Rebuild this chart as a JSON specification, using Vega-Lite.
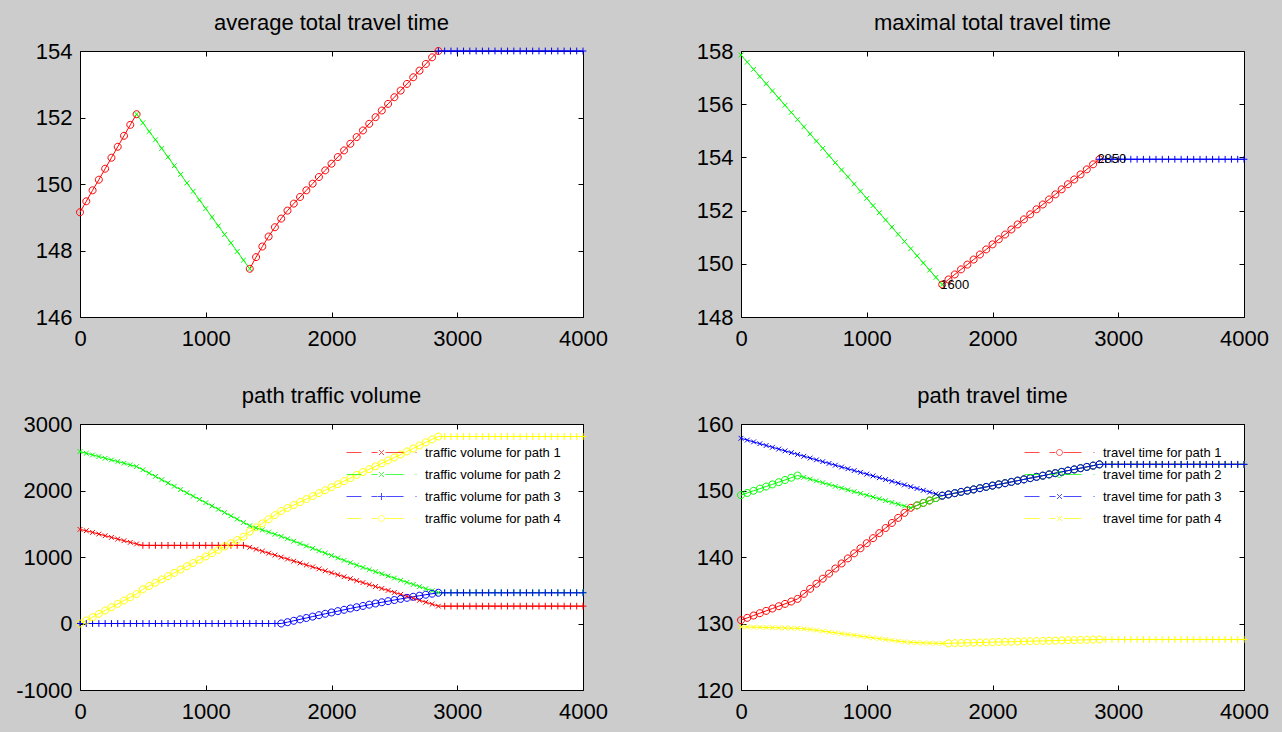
{
"$schema": "https://vega.github.io/schema/vega-lite/v6.json",
"background": "#cccccc",
"padding": {"left": 15, "top": 11, "right": 13, "bottom": 9},
"columns": 2,
"spacing": {"row": 34, "column": 87},
"datasets": {
"avg": [
{"x":0,"v":149.15,"t":"r","g":1},{"x":50,"v":149.48,"t":"r","g":1},{"x":100,"v":149.81,"t":"r","g":1},{"x":150,"v":150.13,"t":"r","g":1},{"x":200,"v":150.46,"t":"r","g":1},{"x":250,"v":150.79,"t":"r","g":1},{"x":300,"v":151.12,"t":"r","g":1},{"x":350,"v":151.45,"t":"r","g":1},{"x":400,"v":151.78,"t":"r","g":1},{"x":450,"v":152.1,"t":"r","g":1},
{"x":450,"v":152.1,"t":"f","g":2},{"x":500,"v":151.84,"t":"f","g":2},{"x":550,"v":151.58,"t":"f","g":2},{"x":600,"v":151.33,"t":"f","g":2},{"x":650,"v":151.07,"t":"f","g":2},{"x":700,"v":150.81,"t":"f","g":2},{"x":750,"v":150.55,"t":"f","g":2},{"x":800,"v":150.29,"t":"f","g":2},{"x":850,"v":150.03,"t":"f","g":2},{"x":900,"v":149.78,"t":"f","g":2},{"x":950,"v":149.52,"t":"f","g":2},{"x":1000,"v":149.26,"t":"f","g":2},{"x":1050,"v":149.0,"t":"f","g":2},{"x":1100,"v":148.74,"t":"f","g":2},{"x":1150,"v":148.48,"t":"f","g":2},{"x":1200,"v":148.23,"t":"f","g":2},{"x":1250,"v":147.97,"t":"f","g":2},{"x":1300,"v":147.71,"t":"f","g":2},{"x":1350,"v":147.45,"t":"f","g":2},
{"x":1350,"v":147.45,"t":"r","g":3},{"x":1400,"v":147.8,"t":"r","g":3},{"x":1450,"v":148.12,"t":"r","g":3},{"x":1500,"v":148.42,"t":"r","g":3},{"x":1550,"v":148.7,"t":"r","g":3},{"x":1600,"v":148.96,"t":"r","g":3},{"x":1650,"v":149.2,"t":"r","g":3},{"x":1700,"v":149.41,"t":"r","g":3},{"x":1750,"v":149.61,"t":"r","g":3},{"x":1800,"v":149.81,"t":"r","g":3},{"x":1850,"v":150.01,"t":"r","g":3},{"x":1900,"v":150.21,"t":"r","g":3},{"x":1950,"v":150.41,"t":"r","g":3},{"x":2000,"v":150.61,"t":"r","g":3},{"x":2050,"v":150.81,"t":"r","g":3},{"x":2100,"v":151.01,"t":"r","g":3},{"x":2150,"v":151.21,"t":"r","g":3},{"x":2200,"v":151.41,"t":"r","g":3},{"x":2250,"v":151.61,"t":"r","g":3},{"x":2300,"v":151.81,"t":"r","g":3},{"x":2350,"v":152.01,"t":"r","g":3},{"x":2400,"v":152.21,"t":"r","g":3},{"x":2450,"v":152.41,"t":"r","g":3},{"x":2500,"v":152.61,"t":"r","g":3},{"x":2550,"v":152.81,"t":"r","g":3},{"x":2600,"v":153.01,"t":"r","g":3},{"x":2650,"v":153.21,"t":"r","g":3},{"x":2700,"v":153.41,"t":"r","g":3},{"x":2750,"v":153.61,"t":"r","g":3},{"x":2800,"v":153.81,"t":"r","g":3},{"x":2850,"v":154.0,"t":"r","g":3},
{"x":2850,"v":154,"t":"c","g":4},{"x":2900,"v":154,"t":"c","g":4},{"x":2950,"v":154,"t":"c","g":4},{"x":3000,"v":154,"t":"c","g":4},{"x":3050,"v":154,"t":"c","g":4},{"x":3100,"v":154,"t":"c","g":4},{"x":3150,"v":154,"t":"c","g":4},{"x":3200,"v":154,"t":"c","g":4},{"x":3250,"v":154,"t":"c","g":4},{"x":3300,"v":154,"t":"c","g":4},{"x":3350,"v":154,"t":"c","g":4},{"x":3400,"v":154,"t":"c","g":4},{"x":3450,"v":154,"t":"c","g":4},{"x":3500,"v":154,"t":"c","g":4},{"x":3550,"v":154,"t":"c","g":4},{"x":3600,"v":154,"t":"c","g":4},{"x":3650,"v":154,"t":"c","g":4},{"x":3700,"v":154,"t":"c","g":4},{"x":3750,"v":154,"t":"c","g":4},{"x":3800,"v":154,"t":"c","g":4},{"x":3850,"v":154,"t":"c","g":4},{"x":3900,"v":154,"t":"c","g":4},{"x":3950,"v":154,"t":"c","g":4},{"x":4000,"v":154,"t":"c","g":4}
],
"max": [
{"x":0,"v":157.85,"t":"f","g":1},{"x":50,"v":157.58,"t":"f","g":1},{"x":100,"v":157.31,"t":"f","g":1},{"x":150,"v":157.04,"t":"f","g":1},{"x":200,"v":156.77,"t":"f","g":1},{"x":250,"v":156.5,"t":"f","g":1},{"x":300,"v":156.23,"t":"f","g":1},{"x":350,"v":155.96,"t":"f","g":1},{"x":400,"v":155.69,"t":"f","g":1},{"x":450,"v":155.42,"t":"f","g":1},{"x":500,"v":155.15,"t":"f","g":1},{"x":550,"v":154.88,"t":"f","g":1},{"x":600,"v":154.61,"t":"f","g":1},{"x":650,"v":154.34,"t":"f","g":1},{"x":700,"v":154.07,"t":"f","g":1},{"x":750,"v":153.8,"t":"f","g":1},{"x":800,"v":153.53,"t":"f","g":1},{"x":850,"v":153.27,"t":"f","g":1},{"x":900,"v":153.0,"t":"f","g":1},{"x":950,"v":152.73,"t":"f","g":1},{"x":1000,"v":152.46,"t":"f","g":1},{"x":1050,"v":152.19,"t":"f","g":1},{"x":1100,"v":151.92,"t":"f","g":1},{"x":1150,"v":151.65,"t":"f","g":1},{"x":1200,"v":151.38,"t":"f","g":1},{"x":1250,"v":151.11,"t":"f","g":1},{"x":1300,"v":150.84,"t":"f","g":1},{"x":1350,"v":150.57,"t":"f","g":1},{"x":1400,"v":150.3,"t":"f","g":1},{"x":1450,"v":150.03,"t":"f","g":1},{"x":1500,"v":149.76,"t":"f","g":1},{"x":1550,"v":149.49,"t":"f","g":1},{"x":1600,"v":149.22,"t":"f","g":1},
{"x":1600,"v":149.22,"t":"r","g":2},{"x":1650,"v":149.41,"t":"r","g":2},{"x":1700,"v":149.6,"t":"r","g":2},{"x":1750,"v":149.79,"t":"r","g":2},{"x":1800,"v":149.97,"t":"r","g":2},{"x":1850,"v":150.16,"t":"r","g":2},{"x":1900,"v":150.35,"t":"r","g":2},{"x":1950,"v":150.54,"t":"r","g":2},{"x":2000,"v":150.73,"t":"r","g":2},{"x":2050,"v":150.92,"t":"r","g":2},{"x":2100,"v":151.1,"t":"r","g":2},{"x":2150,"v":151.29,"t":"r","g":2},{"x":2200,"v":151.48,"t":"r","g":2},{"x":2250,"v":151.67,"t":"r","g":2},{"x":2300,"v":151.86,"t":"r","g":2},{"x":2350,"v":152.05,"t":"r","g":2},{"x":2400,"v":152.23,"t":"r","g":2},{"x":2450,"v":152.42,"t":"r","g":2},{"x":2500,"v":152.61,"t":"r","g":2},{"x":2550,"v":152.8,"t":"r","g":2},{"x":2600,"v":152.99,"t":"r","g":2},{"x":2650,"v":153.17,"t":"r","g":2},{"x":2700,"v":153.36,"t":"r","g":2},{"x":2750,"v":153.55,"t":"r","g":2},{"x":2800,"v":153.74,"t":"r","g":2},{"x":2850,"v":153.93,"t":"r","g":2},
{"x":2850,"v":153.93,"t":"c","g":3},{"x":2900,"v":153.93,"t":"c","g":3},{"x":2950,"v":153.93,"t":"c","g":3},{"x":3000,"v":153.93,"t":"c","g":3},{"x":3050,"v":153.93,"t":"c","g":3},{"x":3100,"v":153.93,"t":"c","g":3},{"x":3150,"v":153.93,"t":"c","g":3},{"x":3200,"v":153.93,"t":"c","g":3},{"x":3250,"v":153.93,"t":"c","g":3},{"x":3300,"v":153.93,"t":"c","g":3},{"x":3350,"v":153.93,"t":"c","g":3},{"x":3400,"v":153.93,"t":"c","g":3},{"x":3450,"v":153.93,"t":"c","g":3},{"x":3500,"v":153.93,"t":"c","g":3},{"x":3550,"v":153.93,"t":"c","g":3},{"x":3600,"v":153.93,"t":"c","g":3},{"x":3650,"v":153.93,"t":"c","g":3},{"x":3700,"v":153.93,"t":"c","g":3},{"x":3750,"v":153.93,"t":"c","g":3},{"x":3800,"v":153.93,"t":"c","g":3},{"x":3850,"v":153.93,"t":"c","g":3},{"x":3900,"v":153.93,"t":"c","g":3},{"x":3950,"v":153.93,"t":"c","g":3},{"x":4000,"v":153.93,"t":"c","g":3}
],
"ann": [{"x":1600,"v":149.22,"label":"1600"},{"x":2850,"v":153.93,"label":"2850"}],
"vol": [
{"s":1,"x":0,"v":1415,"t":"f"},{"s":1,"x":50,"v":1395,"t":"f"},{"s":1,"x":100,"v":1370,"t":"f"},{"s":1,"x":150,"v":1345,"t":"f"},{"s":1,"x":200,"v":1320,"t":"f"},{"s":1,"x":250,"v":1295,"t":"f"},{"s":1,"x":300,"v":1270,"t":"f"},{"s":1,"x":350,"v":1245,"t":"f"},{"s":1,"x":400,"v":1220,"t":"f"},{"s":1,"x":450,"v":1197,"t":"f"},
{"s":1,"x":500,"v":1175,"t":"c"},{"s":1,"x":550,"v":1175,"t":"c"},{"s":1,"x":600,"v":1175,"t":"c"},{"s":1,"x":650,"v":1175,"t":"c"},{"s":1,"x":700,"v":1175,"t":"c"},{"s":1,"x":750,"v":1175,"t":"c"},{"s":1,"x":800,"v":1175,"t":"c"},{"s":1,"x":850,"v":1175,"t":"c"},{"s":1,"x":900,"v":1175,"t":"c"},{"s":1,"x":950,"v":1175,"t":"c"},{"s":1,"x":1000,"v":1175,"t":"c"},{"s":1,"x":1050,"v":1175,"t":"c"},{"s":1,"x":1100,"v":1175,"t":"c"},{"s":1,"x":1150,"v":1175,"t":"c"},{"s":1,"x":1200,"v":1175,"t":"c"},{"s":1,"x":1250,"v":1175,"t":"c"},{"s":1,"x":1300,"v":1175,"t":"c"},
{"s":1,"x":1350,"v":1146,"t":"f"},{"s":1,"x":1400,"v":1116,"t":"f"},{"s":1,"x":1450,"v":1087,"t":"f"},{"s":1,"x":1500,"v":1057,"t":"f"},{"s":1,"x":1550,"v":1028,"t":"f"},{"s":1,"x":1600,"v":998,"t":"f"},{"s":1,"x":1650,"v":969,"t":"f"},{"s":1,"x":1700,"v":939,"t":"f"},{"s":1,"x":1750,"v":910,"t":"f"},{"s":1,"x":1800,"v":880,"t":"f"},{"s":1,"x":1850,"v":851,"t":"f"},{"s":1,"x":1900,"v":821,"t":"f"},{"s":1,"x":1950,"v":792,"t":"f"},{"s":1,"x":2000,"v":762,"t":"f"},{"s":1,"x":2050,"v":733,"t":"f"},{"s":1,"x":2100,"v":703,"t":"f"},{"s":1,"x":2150,"v":674,"t":"f"},{"s":1,"x":2200,"v":644,"t":"f"},{"s":1,"x":2250,"v":615,"t":"f"},{"s":1,"x":2300,"v":585,"t":"f"},{"s":1,"x":2350,"v":556,"t":"f"},{"s":1,"x":2400,"v":526,"t":"f"},{"s":1,"x":2450,"v":497,"t":"f"},{"s":1,"x":2500,"v":467,"t":"f"},{"s":1,"x":2550,"v":438,"t":"f"},{"s":1,"x":2600,"v":408,"t":"f"},{"s":1,"x":2650,"v":379,"t":"f"},{"s":1,"x":2700,"v":349,"t":"f"},{"s":1,"x":2750,"v":320,"t":"f"},{"s":1,"x":2800,"v":290,"t":"f"},{"s":1,"x":2850,"v":261,"t":"f"},
{"s":1,"x":2900,"v":261,"t":"c"},{"s":1,"x":2950,"v":261,"t":"c"},{"s":1,"x":3000,"v":261,"t":"c"},{"s":1,"x":3050,"v":261,"t":"c"},{"s":1,"x":3100,"v":261,"t":"c"},{"s":1,"x":3150,"v":261,"t":"c"},{"s":1,"x":3200,"v":261,"t":"c"},{"s":1,"x":3250,"v":261,"t":"c"},{"s":1,"x":3300,"v":261,"t":"c"},{"s":1,"x":3350,"v":261,"t":"c"},{"s":1,"x":3400,"v":261,"t":"c"},{"s":1,"x":3450,"v":261,"t":"c"},{"s":1,"x":3500,"v":261,"t":"c"},{"s":1,"x":3550,"v":261,"t":"c"},{"s":1,"x":3600,"v":261,"t":"c"},{"s":1,"x":3650,"v":261,"t":"c"},{"s":1,"x":3700,"v":261,"t":"c"},{"s":1,"x":3750,"v":261,"t":"c"},{"s":1,"x":3800,"v":261,"t":"c"},{"s":1,"x":3850,"v":261,"t":"c"},{"s":1,"x":3900,"v":261,"t":"c"},{"s":1,"x":3950,"v":261,"t":"c"},{"s":1,"x":4000,"v":261,"t":"c"},
{"s":2,"x":0,"v":2585,"t":"f"},{"s":2,"x":50,"v":2560,"t":"f"},{"s":2,"x":100,"v":2535,"t":"f"},{"s":2,"x":150,"v":2510,"t":"f"},{"s":2,"x":200,"v":2485,"t":"f"},{"s":2,"x":250,"v":2460,"t":"f"},{"s":2,"x":300,"v":2435,"t":"f"},{"s":2,"x":350,"v":2410,"t":"f"},{"s":2,"x":400,"v":2385,"t":"f"},{"s":2,"x":450,"v":2360,"t":"f"},{"s":2,"x":500,"v":2311,"t":"f"},{"s":2,"x":550,"v":2261,"t":"f"},{"s":2,"x":600,"v":2212,"t":"f"},{"s":2,"x":650,"v":2162,"t":"f"},{"s":2,"x":700,"v":2113,"t":"f"},{"s":2,"x":750,"v":2064,"t":"f"},{"s":2,"x":800,"v":2014,"t":"f"},{"s":2,"x":850,"v":1965,"t":"f"},{"s":2,"x":900,"v":1915,"t":"f"},{"s":2,"x":950,"v":1866,"t":"f"},{"s":2,"x":1000,"v":1817,"t":"f"},{"s":2,"x":1050,"v":1767,"t":"f"},{"s":2,"x":1100,"v":1718,"t":"f"},{"s":2,"x":1150,"v":1668,"t":"f"},{"s":2,"x":1200,"v":1619,"t":"f"},{"s":2,"x":1250,"v":1570,"t":"f"},{"s":2,"x":1300,"v":1520,"t":"f"},{"s":2,"x":1350,"v":1471,"t":"f"},{"s":2,"x":1400,"v":1439,"t":"f"},{"s":2,"x":1450,"v":1407,"t":"f"},{"s":2,"x":1500,"v":1375,"t":"f"},{"s":2,"x":1550,"v":1342,"t":"f"},{"s":2,"x":1600,"v":1310,"t":"f"},{"s":2,"x":1650,"v":1274,"t":"f"},{"s":2,"x":1700,"v":1238,"t":"f"},{"s":2,"x":1750,"v":1202,"t":"f"},{"s":2,"x":1800,"v":1166,"t":"f"},{"s":2,"x":1850,"v":1130,"t":"f"},{"s":2,"x":1900,"v":1094,"t":"f"},{"s":2,"x":1950,"v":1058,"t":"f"},{"s":2,"x":2000,"v":1022,"t":"f"},{"s":2,"x":2050,"v":986,"t":"f"},{"s":2,"x":2100,"v":950,"t":"f"},{"s":2,"x":2150,"v":914,"t":"f"},{"s":2,"x":2200,"v":878,"t":"f"},{"s":2,"x":2250,"v":843,"t":"f"},{"s":2,"x":2300,"v":811,"t":"f"},{"s":2,"x":2350,"v":779,"t":"f"},{"s":2,"x":2400,"v":747,"t":"f"},{"s":2,"x":2450,"v":715,"t":"f"},{"s":2,"x":2500,"v":683,"t":"f"},{"s":2,"x":2550,"v":651,"t":"f"},{"s":2,"x":2600,"v":619,"t":"f"},{"s":2,"x":2650,"v":587,"t":"f"},{"s":2,"x":2700,"v":555,"t":"f"},{"s":2,"x":2750,"v":523,"t":"f"},{"s":2,"x":2800,"v":494,"t":"f"},{"s":2,"x":2850,"v":465,"t":"f"},
{"s":2,"x":2900,"v":465,"t":"c"},{"s":2,"x":2950,"v":465,"t":"c"},{"s":2,"x":3000,"v":465,"t":"c"},{"s":2,"x":3050,"v":465,"t":"c"},{"s":2,"x":3100,"v":465,"t":"c"},{"s":2,"x":3150,"v":465,"t":"c"},{"s":2,"x":3200,"v":465,"t":"c"},{"s":2,"x":3250,"v":465,"t":"c"},{"s":2,"x":3300,"v":465,"t":"c"},{"s":2,"x":3350,"v":465,"t":"c"},{"s":2,"x":3400,"v":465,"t":"c"},{"s":2,"x":3450,"v":465,"t":"c"},{"s":2,"x":3500,"v":465,"t":"c"},{"s":2,"x":3550,"v":465,"t":"c"},{"s":2,"x":3600,"v":465,"t":"c"},{"s":2,"x":3650,"v":465,"t":"c"},{"s":2,"x":3700,"v":465,"t":"c"},{"s":2,"x":3750,"v":465,"t":"c"},{"s":2,"x":3800,"v":465,"t":"c"},{"s":2,"x":3850,"v":465,"t":"c"},{"s":2,"x":3900,"v":465,"t":"c"},{"s":2,"x":3950,"v":465,"t":"c"},{"s":2,"x":4000,"v":465,"t":"c"},
{"s":3,"x":0,"v":0,"t":"c"},{"s":3,"x":50,"v":0,"t":"c"},{"s":3,"x":100,"v":0,"t":"c"},{"s":3,"x":150,"v":0,"t":"c"},{"s":3,"x":200,"v":0,"t":"c"},{"s":3,"x":250,"v":0,"t":"c"},{"s":3,"x":300,"v":0,"t":"c"},{"s":3,"x":350,"v":0,"t":"c"},{"s":3,"x":400,"v":0,"t":"c"},{"s":3,"x":450,"v":0,"t":"c"},{"s":3,"x":500,"v":0,"t":"c"},{"s":3,"x":550,"v":0,"t":"c"},{"s":3,"x":600,"v":0,"t":"c"},{"s":3,"x":650,"v":0,"t":"c"},{"s":3,"x":700,"v":0,"t":"c"},{"s":3,"x":750,"v":0,"t":"c"},{"s":3,"x":800,"v":0,"t":"c"},{"s":3,"x":850,"v":0,"t":"c"},{"s":3,"x":900,"v":0,"t":"c"},{"s":3,"x":950,"v":0,"t":"c"},{"s":3,"x":1000,"v":0,"t":"c"},{"s":3,"x":1050,"v":0,"t":"c"},{"s":3,"x":1100,"v":0,"t":"c"},{"s":3,"x":1150,"v":0,"t":"c"},{"s":3,"x":1200,"v":0,"t":"c"},{"s":3,"x":1250,"v":0,"t":"c"},{"s":3,"x":1300,"v":0,"t":"c"},{"s":3,"x":1350,"v":0,"t":"c"},{"s":3,"x":1400,"v":0,"t":"c"},{"s":3,"x":1450,"v":0,"t":"c"},{"s":3,"x":1500,"v":0,"t":"c"},{"s":3,"x":1550,"v":0,"t":"c"},
{"s":3,"x":1600,"v":0,"t":"r"},{"s":3,"x":1650,"v":20,"t":"r"},{"s":3,"x":1700,"v":41,"t":"r"},{"s":3,"x":1750,"v":62,"t":"r"},{"s":3,"x":1800,"v":83,"t":"r"},{"s":3,"x":1850,"v":104,"t":"r"},{"s":3,"x":1900,"v":125,"t":"r"},{"s":3,"x":1950,"v":146,"t":"r"},{"s":3,"x":2000,"v":166,"t":"r"},{"s":3,"x":2050,"v":186,"t":"r"},{"s":3,"x":2100,"v":206,"t":"r"},{"s":3,"x":2150,"v":226,"t":"r"},{"s":3,"x":2200,"v":245,"t":"r"},{"s":3,"x":2250,"v":264,"t":"r"},{"s":3,"x":2300,"v":283,"t":"r"},{"s":3,"x":2350,"v":301,"t":"r"},{"s":3,"x":2400,"v":319,"t":"r"},{"s":3,"x":2450,"v":336,"t":"r"},{"s":3,"x":2500,"v":353,"t":"r"},{"s":3,"x":2550,"v":370,"t":"r"},{"s":3,"x":2600,"v":386,"t":"r"},{"s":3,"x":2650,"v":402,"t":"r"},{"s":3,"x":2700,"v":418,"t":"r"},{"s":3,"x":2750,"v":433,"t":"r"},{"s":3,"x":2800,"v":448,"t":"r"},{"s":3,"x":2850,"v":462,"t":"r"},
{"s":3,"x":2900,"v":462,"t":"c"},{"s":3,"x":2950,"v":462,"t":"c"},{"s":3,"x":3000,"v":462,"t":"c"},{"s":3,"x":3050,"v":462,"t":"c"},{"s":3,"x":3100,"v":462,"t":"c"},{"s":3,"x":3150,"v":462,"t":"c"},{"s":3,"x":3200,"v":462,"t":"c"},{"s":3,"x":3250,"v":462,"t":"c"},{"s":3,"x":3300,"v":462,"t":"c"},{"s":3,"x":3350,"v":462,"t":"c"},{"s":3,"x":3400,"v":462,"t":"c"},{"s":3,"x":3450,"v":462,"t":"c"},{"s":3,"x":3500,"v":462,"t":"c"},{"s":3,"x":3550,"v":462,"t":"c"},{"s":3,"x":3600,"v":462,"t":"c"},{"s":3,"x":3650,"v":462,"t":"c"},{"s":3,"x":3700,"v":462,"t":"c"},{"s":3,"x":3750,"v":462,"t":"c"},{"s":3,"x":3800,"v":462,"t":"c"},{"s":3,"x":3850,"v":462,"t":"c"},{"s":3,"x":3900,"v":462,"t":"c"},{"s":3,"x":3950,"v":462,"t":"c"},{"s":3,"x":4000,"v":462,"t":"c"},
{"s":4,"x":0,"v":0,"t":"r"},{"s":4,"x":50,"v":45,"t":"r"},{"s":4,"x":100,"v":95,"t":"r"},{"s":4,"x":150,"v":145,"t":"r"},{"s":4,"x":200,"v":195,"t":"r"},{"s":4,"x":250,"v":245,"t":"r"},{"s":4,"x":300,"v":295,"t":"r"},{"s":4,"x":350,"v":345,"t":"r"},{"s":4,"x":400,"v":395,"t":"r"},{"s":4,"x":450,"v":443,"t":"r"},{"s":4,"x":500,"v":514,"t":"r"},{"s":4,"x":550,"v":564,"t":"r"},{"s":4,"x":600,"v":613,"t":"r"},{"s":4,"x":650,"v":663,"t":"r"},{"s":4,"x":700,"v":712,"t":"r"},{"s":4,"x":750,"v":761,"t":"r"},{"s":4,"x":800,"v":811,"t":"r"},{"s":4,"x":850,"v":860,"t":"r"},{"s":4,"x":900,"v":910,"t":"r"},{"s":4,"x":950,"v":959,"t":"r"},{"s":4,"x":1000,"v":1008,"t":"r"},{"s":4,"x":1050,"v":1058,"t":"r"},{"s":4,"x":1100,"v":1107,"t":"r"},{"s":4,"x":1150,"v":1157,"t":"r"},{"s":4,"x":1200,"v":1206,"t":"r"},{"s":4,"x":1250,"v":1255,"t":"r"},{"s":4,"x":1300,"v":1305,"t":"r"},{"s":4,"x":1350,"v":1383,"t":"r"},{"s":4,"x":1400,"v":1445,"t":"r"},{"s":4,"x":1450,"v":1506,"t":"r"},{"s":4,"x":1500,"v":1568,"t":"r"},{"s":4,"x":1550,"v":1630,"t":"r"},{"s":4,"x":1600,"v":1692,"t":"r"},{"s":4,"x":1650,"v":1737,"t":"r"},{"s":4,"x":1700,"v":1782,"t":"r"},{"s":4,"x":1750,"v":1826,"t":"r"},{"s":4,"x":1800,"v":1871,"t":"r"},{"s":4,"x":1850,"v":1915,"t":"r"},{"s":4,"x":1900,"v":1960,"t":"r"},{"s":4,"x":1950,"v":2004,"t":"r"},{"s":4,"x":2000,"v":2050,"t":"r"},{"s":4,"x":2050,"v":2095,"t":"r"},{"s":4,"x":2100,"v":2141,"t":"r"},{"s":4,"x":2150,"v":2186,"t":"r"},{"s":4,"x":2200,"v":2233,"t":"r"},{"s":4,"x":2250,"v":2278,"t":"r"},{"s":4,"x":2300,"v":2321,"t":"r"},{"s":4,"x":2350,"v":2364,"t":"r"},{"s":4,"x":2400,"v":2408,"t":"r"},{"s":4,"x":2450,"v":2452,"t":"r"},{"s":4,"x":2500,"v":2497,"t":"r"},{"s":4,"x":2550,"v":2541,"t":"r"},{"s":4,"x":2600,"v":2587,"t":"r"},{"s":4,"x":2650,"v":2632,"t":"r"},{"s":4,"x":2700,"v":2678,"t":"r"},{"s":4,"x":2750,"v":2724,"t":"r"},{"s":4,"x":2800,"v":2768,"t":"r"},{"s":4,"x":2850,"v":2812,"t":"r"},
{"s":4,"x":2900,"v":2812,"t":"c"},{"s":4,"x":2950,"v":2812,"t":"c"},{"s":4,"x":3000,"v":2812,"t":"c"},{"s":4,"x":3050,"v":2812,"t":"c"},{"s":4,"x":3100,"v":2812,"t":"c"},{"s":4,"x":3150,"v":2812,"t":"c"},{"s":4,"x":3200,"v":2812,"t":"c"},{"s":4,"x":3250,"v":2812,"t":"c"},{"s":4,"x":3300,"v":2812,"t":"c"},{"s":4,"x":3350,"v":2812,"t":"c"},{"s":4,"x":3400,"v":2812,"t":"c"},{"s":4,"x":3450,"v":2812,"t":"c"},{"s":4,"x":3500,"v":2812,"t":"c"},{"s":4,"x":3550,"v":2812,"t":"c"},{"s":4,"x":3600,"v":2812,"t":"c"},{"s":4,"x":3650,"v":2812,"t":"c"},{"s":4,"x":3700,"v":2812,"t":"c"},{"s":4,"x":3750,"v":2812,"t":"c"},{"s":4,"x":3800,"v":2812,"t":"c"},{"s":4,"x":3850,"v":2812,"t":"c"},{"s":4,"x":3900,"v":2812,"t":"c"},{"s":4,"x":3950,"v":2812,"t":"c"},{"s":4,"x":4000,"v":2812,"t":"c"}
],
"tt": [
{"s":1,"x":0,"v":130.5,"t":"r"},{"s":1,"x":50,"v":130.85,"t":"r"},{"s":1,"x":100,"v":131.2,"t":"r"},{"s":1,"x":150,"v":131.55,"t":"r"},{"s":1,"x":200,"v":131.9,"t":"r"},{"s":1,"x":250,"v":132.25,"t":"r"},{"s":1,"x":300,"v":132.6,"t":"r"},{"s":1,"x":350,"v":132.95,"t":"r"},{"s":1,"x":400,"v":133.3,"t":"r"},{"s":1,"x":450,"v":133.7,"t":"r"},{"s":1,"x":500,"v":134.46,"t":"r"},{"s":1,"x":550,"v":135.22,"t":"r"},{"s":1,"x":600,"v":135.98,"t":"r"},{"s":1,"x":650,"v":136.74,"t":"r"},{"s":1,"x":700,"v":137.5,"t":"r"},{"s":1,"x":750,"v":138.27,"t":"r"},{"s":1,"x":800,"v":139.03,"t":"r"},{"s":1,"x":850,"v":139.79,"t":"r"},{"s":1,"x":900,"v":140.55,"t":"r"},{"s":1,"x":950,"v":141.31,"t":"r"},{"s":1,"x":1000,"v":142.07,"t":"r"},{"s":1,"x":1050,"v":142.83,"t":"r"},{"s":1,"x":1100,"v":143.59,"t":"r"},{"s":1,"x":1150,"v":144.36,"t":"r"},{"s":1,"x":1200,"v":145.12,"t":"r"},{"s":1,"x":1250,"v":145.88,"t":"r"},{"s":1,"x":1300,"v":146.64,"t":"r"},{"s":1,"x":1350,"v":147.4,"t":"r"},{"s":1,"x":1400,"v":147.76,"t":"r"},{"s":1,"x":1450,"v":148.13,"t":"r"},{"s":1,"x":1500,"v":148.49,"t":"r"},{"s":1,"x":1550,"v":148.86,"t":"r"},{"s":1,"x":1600,"v":149.22,"t":"r"},{"s":1,"x":1650,"v":149.41,"t":"r"},{"s":1,"x":1700,"v":149.6,"t":"r"},{"s":1,"x":1750,"v":149.79,"t":"r"},{"s":1,"x":1800,"v":149.97,"t":"r"},{"s":1,"x":1850,"v":150.16,"t":"r"},{"s":1,"x":1900,"v":150.35,"t":"r"},{"s":1,"x":1950,"v":150.54,"t":"r"},{"s":1,"x":2000,"v":150.73,"t":"r"},{"s":1,"x":2050,"v":150.92,"t":"r"},{"s":1,"x":2100,"v":151.1,"t":"r"},{"s":1,"x":2150,"v":151.29,"t":"r"},{"s":1,"x":2200,"v":151.48,"t":"r"},{"s":1,"x":2250,"v":151.67,"t":"r"},{"s":1,"x":2300,"v":151.86,"t":"r"},{"s":1,"x":2350,"v":152.05,"t":"r"},{"s":1,"x":2400,"v":152.23,"t":"r"},{"s":1,"x":2450,"v":152.42,"t":"r"},{"s":1,"x":2500,"v":152.61,"t":"r"},{"s":1,"x":2550,"v":152.8,"t":"r"},{"s":1,"x":2600,"v":152.99,"t":"r"},{"s":1,"x":2650,"v":153.17,"t":"r"},{"s":1,"x":2700,"v":153.36,"t":"r"},{"s":1,"x":2750,"v":153.55,"t":"r"},{"s":1,"x":2800,"v":153.74,"t":"r"},{"s":1,"x":2850,"v":153.93,"t":"r"},
{"s":1,"x":2900,"v":153.93,"t":"c"},{"s":1,"x":2950,"v":153.93,"t":"c"},{"s":1,"x":3000,"v":153.93,"t":"c"},{"s":1,"x":3050,"v":153.93,"t":"c"},{"s":1,"x":3100,"v":153.93,"t":"c"},{"s":1,"x":3150,"v":153.93,"t":"c"},{"s":1,"x":3200,"v":153.93,"t":"c"},{"s":1,"x":3250,"v":153.93,"t":"c"},{"s":1,"x":3300,"v":153.93,"t":"c"},{"s":1,"x":3350,"v":153.93,"t":"c"},{"s":1,"x":3400,"v":153.93,"t":"c"},{"s":1,"x":3450,"v":153.93,"t":"c"},{"s":1,"x":3500,"v":153.93,"t":"c"},{"s":1,"x":3550,"v":153.93,"t":"c"},{"s":1,"x":3600,"v":153.93,"t":"c"},{"s":1,"x":3650,"v":153.93,"t":"c"},{"s":1,"x":3700,"v":153.93,"t":"c"},{"s":1,"x":3750,"v":153.93,"t":"c"},{"s":1,"x":3800,"v":153.93,"t":"c"},{"s":1,"x":3850,"v":153.93,"t":"c"},{"s":1,"x":3900,"v":153.93,"t":"c"},{"s":1,"x":3950,"v":153.93,"t":"c"},{"s":1,"x":4000,"v":153.93,"t":"c"},
{"s":2,"x":0,"v":149.3,"t":"r"},{"s":2,"x":50,"v":149.63,"t":"r"},{"s":2,"x":100,"v":149.96,"t":"r"},{"s":2,"x":150,"v":150.28,"t":"r"},{"s":2,"x":200,"v":150.6,"t":"r"},{"s":2,"x":250,"v":150.92,"t":"r"},{"s":2,"x":300,"v":151.25,"t":"r"},{"s":2,"x":350,"v":151.58,"t":"r"},{"s":2,"x":400,"v":151.92,"t":"r"},{"s":2,"x":450,"v":152.25,"t":"r"},{"s":2,"x":500,"v":151.98,"t":"f"},{"s":2,"x":550,"v":151.71,"t":"f"},{"s":2,"x":600,"v":151.44,"t":"f"},{"s":2,"x":650,"v":151.17,"t":"f"},{"s":2,"x":700,"v":150.9,"t":"f"},{"s":2,"x":750,"v":150.63,"t":"f"},{"s":2,"x":800,"v":150.37,"t":"f"},{"s":2,"x":850,"v":150.1,"t":"f"},{"s":2,"x":900,"v":149.83,"t":"f"},{"s":2,"x":950,"v":149.56,"t":"f"},{"s":2,"x":1000,"v":149.29,"t":"f"},{"s":2,"x":1050,"v":149.02,"t":"f"},{"s":2,"x":1100,"v":148.75,"t":"f"},{"s":2,"x":1150,"v":148.48,"t":"f"},{"s":2,"x":1200,"v":148.21,"t":"f"},{"s":2,"x":1250,"v":147.94,"t":"f"},{"s":2,"x":1300,"v":147.67,"t":"f"},{"s":2,"x":1350,"v":147.4,"t":"f"},{"s":2,"x":1400,"v":147.76,"t":"r"},{"s":2,"x":1450,"v":148.13,"t":"r"},{"s":2,"x":1500,"v":148.49,"t":"r"},{"s":2,"x":1550,"v":148.86,"t":"r"},{"s":2,"x":1600,"v":149.22,"t":"r"},{"s":2,"x":1650,"v":149.41,"t":"r"},{"s":2,"x":1700,"v":149.6,"t":"r"},{"s":2,"x":1750,"v":149.79,"t":"r"},{"s":2,"x":1800,"v":149.97,"t":"r"},{"s":2,"x":1850,"v":150.16,"t":"r"},{"s":2,"x":1900,"v":150.35,"t":"r"},{"s":2,"x":1950,"v":150.54,"t":"r"},{"s":2,"x":2000,"v":150.73,"t":"r"},{"s":2,"x":2050,"v":150.92,"t":"r"},{"s":2,"x":2100,"v":151.1,"t":"r"},{"s":2,"x":2150,"v":151.29,"t":"r"},{"s":2,"x":2200,"v":151.48,"t":"r"},{"s":2,"x":2250,"v":151.67,"t":"r"},{"s":2,"x":2300,"v":151.86,"t":"r"},{"s":2,"x":2350,"v":152.05,"t":"r"},{"s":2,"x":2400,"v":152.23,"t":"r"},{"s":2,"x":2450,"v":152.42,"t":"r"},{"s":2,"x":2500,"v":152.61,"t":"r"},{"s":2,"x":2550,"v":152.8,"t":"r"},{"s":2,"x":2600,"v":152.99,"t":"r"},{"s":2,"x":2650,"v":153.17,"t":"r"},{"s":2,"x":2700,"v":153.36,"t":"r"},{"s":2,"x":2750,"v":153.55,"t":"r"},{"s":2,"x":2800,"v":153.74,"t":"r"},{"s":2,"x":2850,"v":153.93,"t":"r"},
{"s":2,"x":2900,"v":153.93,"t":"c"},{"s":2,"x":2950,"v":153.93,"t":"c"},{"s":2,"x":3000,"v":153.93,"t":"c"},{"s":2,"x":3050,"v":153.93,"t":"c"},{"s":2,"x":3100,"v":153.93,"t":"c"},{"s":2,"x":3150,"v":153.93,"t":"c"},{"s":2,"x":3200,"v":153.93,"t":"c"},{"s":2,"x":3250,"v":153.93,"t":"c"},{"s":2,"x":3300,"v":153.93,"t":"c"},{"s":2,"x":3350,"v":153.93,"t":"c"},{"s":2,"x":3400,"v":153.93,"t":"c"},{"s":2,"x":3450,"v":153.93,"t":"c"},{"s":2,"x":3500,"v":153.93,"t":"c"},{"s":2,"x":3550,"v":153.93,"t":"c"},{"s":2,"x":3600,"v":153.93,"t":"c"},{"s":2,"x":3650,"v":153.93,"t":"c"},{"s":2,"x":3700,"v":153.93,"t":"c"},{"s":2,"x":3750,"v":153.93,"t":"c"},{"s":2,"x":3800,"v":153.93,"t":"c"},{"s":2,"x":3850,"v":153.93,"t":"c"},{"s":2,"x":3900,"v":153.93,"t":"c"},{"s":2,"x":3950,"v":153.93,"t":"c"},{"s":2,"x":4000,"v":153.93,"t":"c"},
{"s":3,"x":0,"v":157.85,"t":"f"},{"s":3,"x":50,"v":157.58,"t":"f"},{"s":3,"x":100,"v":157.31,"t":"f"},{"s":3,"x":150,"v":157.04,"t":"f"},{"s":3,"x":200,"v":156.77,"t":"f"},{"s":3,"x":250,"v":156.5,"t":"f"},{"s":3,"x":300,"v":156.23,"t":"f"},{"s":3,"x":350,"v":155.96,"t":"f"},{"s":3,"x":400,"v":155.69,"t":"f"},{"s":3,"x":450,"v":155.42,"t":"f"},{"s":3,"x":500,"v":155.15,"t":"f"},{"s":3,"x":550,"v":154.88,"t":"f"},{"s":3,"x":600,"v":154.61,"t":"f"},{"s":3,"x":650,"v":154.34,"t":"f"},{"s":3,"x":700,"v":154.07,"t":"f"},{"s":3,"x":750,"v":153.8,"t":"f"},{"s":3,"x":800,"v":153.53,"t":"f"},{"s":3,"x":850,"v":153.27,"t":"f"},{"s":3,"x":900,"v":153.0,"t":"f"},{"s":3,"x":950,"v":152.73,"t":"f"},{"s":3,"x":1000,"v":152.46,"t":"f"},{"s":3,"x":1050,"v":152.19,"t":"f"},{"s":3,"x":1100,"v":151.92,"t":"f"},{"s":3,"x":1150,"v":151.65,"t":"f"},{"s":3,"x":1200,"v":151.38,"t":"f"},{"s":3,"x":1250,"v":151.11,"t":"f"},{"s":3,"x":1300,"v":150.84,"t":"f"},{"s":3,"x":1350,"v":150.57,"t":"f"},{"s":3,"x":1400,"v":150.3,"t":"f"},{"s":3,"x":1450,"v":150.03,"t":"f"},{"s":3,"x":1500,"v":149.76,"t":"f"},{"s":3,"x":1550,"v":149.49,"t":"f"},{"s":3,"x":1600,"v":149.22,"t":"r"},{"s":3,"x":1650,"v":149.41,"t":"r"},{"s":3,"x":1700,"v":149.6,"t":"r"},{"s":3,"x":1750,"v":149.79,"t":"r"},{"s":3,"x":1800,"v":149.97,"t":"r"},{"s":3,"x":1850,"v":150.16,"t":"r"},{"s":3,"x":1900,"v":150.35,"t":"r"},{"s":3,"x":1950,"v":150.54,"t":"r"},{"s":3,"x":2000,"v":150.73,"t":"r"},{"s":3,"x":2050,"v":150.92,"t":"r"},{"s":3,"x":2100,"v":151.1,"t":"r"},{"s":3,"x":2150,"v":151.29,"t":"r"},{"s":3,"x":2200,"v":151.48,"t":"r"},{"s":3,"x":2250,"v":151.67,"t":"r"},{"s":3,"x":2300,"v":151.86,"t":"r"},{"s":3,"x":2350,"v":152.05,"t":"r"},{"s":3,"x":2400,"v":152.23,"t":"r"},{"s":3,"x":2450,"v":152.42,"t":"r"},{"s":3,"x":2500,"v":152.61,"t":"r"},{"s":3,"x":2550,"v":152.8,"t":"r"},{"s":3,"x":2600,"v":152.99,"t":"r"},{"s":3,"x":2650,"v":153.17,"t":"r"},{"s":3,"x":2700,"v":153.36,"t":"r"},{"s":3,"x":2750,"v":153.55,"t":"r"},{"s":3,"x":2800,"v":153.74,"t":"r"},{"s":3,"x":2850,"v":153.93,"t":"r"},
{"s":3,"x":2900,"v":153.93,"t":"c"},{"s":3,"x":2950,"v":153.93,"t":"c"},{"s":3,"x":3000,"v":153.93,"t":"c"},{"s":3,"x":3050,"v":153.93,"t":"c"},{"s":3,"x":3100,"v":153.93,"t":"c"},{"s":3,"x":3150,"v":153.93,"t":"c"},{"s":3,"x":3200,"v":153.93,"t":"c"},{"s":3,"x":3250,"v":153.93,"t":"c"},{"s":3,"x":3300,"v":153.93,"t":"c"},{"s":3,"x":3350,"v":153.93,"t":"c"},{"s":3,"x":3400,"v":153.93,"t":"c"},{"s":3,"x":3450,"v":153.93,"t":"c"},{"s":3,"x":3500,"v":153.93,"t":"c"},{"s":3,"x":3550,"v":153.93,"t":"c"},{"s":3,"x":3600,"v":153.93,"t":"c"},{"s":3,"x":3650,"v":153.93,"t":"c"},{"s":3,"x":3700,"v":153.93,"t":"c"},{"s":3,"x":3750,"v":153.93,"t":"c"},{"s":3,"x":3800,"v":153.93,"t":"c"},{"s":3,"x":3850,"v":153.93,"t":"c"},{"s":3,"x":3900,"v":153.93,"t":"c"},{"s":3,"x":3950,"v":153.93,"t":"c"},{"s":3,"x":4000,"v":153.93,"t":"c"},
{"s":4,"x":0,"v":129.5,"t":"f"},{"s":4,"x":50,"v":129.48,"t":"f"},{"s":4,"x":100,"v":129.45,"t":"f"},{"s":4,"x":150,"v":129.43,"t":"f"},{"s":4,"x":200,"v":129.4,"t":"f"},{"s":4,"x":250,"v":129.38,"t":"f"},{"s":4,"x":300,"v":129.35,"t":"f"},{"s":4,"x":350,"v":129.33,"t":"f"},{"s":4,"x":400,"v":129.3,"t":"f"},{"s":4,"x":450,"v":129.27,"t":"f"},{"s":4,"x":500,"v":129.2,"t":"f"},{"s":4,"x":550,"v":129.1,"t":"f"},{"s":4,"x":600,"v":128.98,"t":"f"},{"s":4,"x":650,"v":128.85,"t":"f"},{"s":4,"x":700,"v":128.72,"t":"f"},{"s":4,"x":750,"v":128.6,"t":"f"},{"s":4,"x":800,"v":128.47,"t":"f"},{"s":4,"x":850,"v":128.35,"t":"f"},{"s":4,"x":900,"v":128.22,"t":"f"},{"s":4,"x":950,"v":128.1,"t":"f"},{"s":4,"x":1000,"v":127.97,"t":"f"},{"s":4,"x":1050,"v":127.85,"t":"f"},{"s":4,"x":1100,"v":127.72,"t":"f"},{"s":4,"x":1150,"v":127.6,"t":"f"},{"s":4,"x":1200,"v":127.47,"t":"f"},{"s":4,"x":1250,"v":127.35,"t":"f"},{"s":4,"x":1300,"v":127.25,"t":"f"},{"s":4,"x":1350,"v":127.17,"t":"f"},{"s":4,"x":1400,"v":127.12,"t":"f"},{"s":4,"x":1450,"v":127.08,"t":"f"},{"s":4,"x":1500,"v":127.05,"t":"f"},{"s":4,"x":1550,"v":127.02,"t":"f"},{"s":4,"x":1600,"v":127.0,"t":"f"},{"s":4,"x":1650,"v":127.02,"t":"r"},{"s":4,"x":1700,"v":127.05,"t":"r"},{"s":4,"x":1750,"v":127.07,"t":"r"},{"s":4,"x":1800,"v":127.1,"t":"r"},{"s":4,"x":1850,"v":127.12,"t":"r"},{"s":4,"x":1900,"v":127.14,"t":"r"},{"s":4,"x":1950,"v":127.17,"t":"r"},{"s":4,"x":2000,"v":127.19,"t":"r"},{"s":4,"x":2050,"v":127.22,"t":"r"},{"s":4,"x":2100,"v":127.24,"t":"r"},{"s":4,"x":2150,"v":127.26,"t":"r"},{"s":4,"x":2200,"v":127.29,"t":"r"},{"s":4,"x":2250,"v":127.31,"t":"r"},{"s":4,"x":2300,"v":127.34,"t":"r"},{"s":4,"x":2350,"v":127.36,"t":"r"},{"s":4,"x":2400,"v":127.38,"t":"r"},{"s":4,"x":2450,"v":127.41,"t":"r"},{"s":4,"x":2500,"v":127.43,"t":"r"},{"s":4,"x":2550,"v":127.46,"t":"r"},{"s":4,"x":2600,"v":127.48,"t":"r"},{"s":4,"x":2650,"v":127.5,"t":"r"},{"s":4,"x":2700,"v":127.53,"t":"r"},{"s":4,"x":2750,"v":127.55,"t":"r"},{"s":4,"x":2800,"v":127.58,"t":"r"},{"s":4,"x":2850,"v":127.6,"t":"r"},
{"s":4,"x":2900,"v":127.6,"t":"c"},{"s":4,"x":2950,"v":127.6,"t":"c"},{"s":4,"x":3000,"v":127.6,"t":"c"},{"s":4,"x":3050,"v":127.6,"t":"c"},{"s":4,"x":3100,"v":127.6,"t":"c"},{"s":4,"x":3150,"v":127.6,"t":"c"},{"s":4,"x":3200,"v":127.6,"t":"c"},{"s":4,"x":3250,"v":127.6,"t":"c"},{"s":4,"x":3300,"v":127.6,"t":"c"},{"s":4,"x":3350,"v":127.6,"t":"c"},{"s":4,"x":3400,"v":127.6,"t":"c"},{"s":4,"x":3450,"v":127.6,"t":"c"},{"s":4,"x":3500,"v":127.6,"t":"c"},{"s":4,"x":3550,"v":127.6,"t":"c"},{"s":4,"x":3600,"v":127.6,"t":"c"},{"s":4,"x":3650,"v":127.6,"t":"c"},{"s":4,"x":3700,"v":127.6,"t":"c"},{"s":4,"x":3750,"v":127.6,"t":"c"},{"s":4,"x":3800,"v":127.6,"t":"c"},{"s":4,"x":3850,"v":127.6,"t":"c"},{"s":4,"x":3900,"v":127.6,"t":"c"},{"s":4,"x":3950,"v":127.6,"t":"c"},{"s":4,"x":4000,"v":127.6,"t":"c"}
]
},
"concat": [
{
"width": 503, "height": 266,
"view": {"fill": "#ffffff", "stroke": "#000000", "strokeWidth": 1},
"title": "average total travel time",
"data": {"name": "avg"},
"layer": [
{"mark": {"type": "line", "strokeWidth": 1},
 "encoding": {
  "x": {"field": "x", "type": "quantitative", "title": null, "scale": {"domain": [0, 4000], "nice": false}, "axis": {"orient": "bottom", "values": [0, 1000, 2000, 3000, 4000], "labelPadding": 16, "labelExpr": "'' + datum.value"}},
  "y": {"field": "v", "type": "quantitative", "title": null, "scale": {"domain": [146, 154], "nice": false, "zero": false}, "axis": {"orient": "left", "values": [146, 148, 150, 152, 154], "labelPadding": 13, "labelExpr": "'' + datum.value"}},
  "color": {"field": "t", "type": "nominal", "scale": {"domain": ["r", "f", "c"], "range": ["#ff0000", "#00ff00", "#0000ff"]}, "legend": null},
  "detail": {"field": "g", "type": "nominal"}
 }},
{"mark": {"type": "point", "filled": false, "size": 64, "strokeWidth": 1, "opacity": 1},
 "encoding": {
  "x": {"field": "x", "type": "quantitative", "title": null, "scale": {"domain": [0, 4000], "nice": false}, "axis": {"orient": "top", "values": [0, 1000, 2000, 3000, 4000], "labels": false}},
  "y": {"field": "v", "type": "quantitative", "title": null, "scale": {"domain": [146, 154], "nice": false, "zero": false}, "axis": {"orient": "right", "values": [146, 148, 150, 152, 154], "labels": false}},
  "color": {"field": "t", "type": "nominal", "scale": {"domain": ["r", "f", "c"], "range": ["#ff0000", "#00ff00", "#0000ff"]}, "legend": null},
  "shape": {"field": "t", "type": "nominal", "scale": {"domain": ["r", "f", "c"], "range": ["M0.875,0A0.875,0.875 0 1,1 -0.875,0A0.875,0.875 0 1,1 0.875,0Z", "M-0.6,-0.6L0.6,0.6M-0.6,0.6L0.6,-0.6", "M-0.85,0L0.85,0M0,-0.85L0,0.85"]}, "legend": null}
 }}
],
"resolve": {"axis": {"x": "independent", "y": "independent"}}
},
{
"width": 503, "height": 266,
"view": {"fill": "#ffffff", "stroke": "#000000", "strokeWidth": 1},
"title": "maximal total travel time",
"layer": [
{"data": {"name": "max"}, "mark": {"type": "line", "strokeWidth": 1},
 "encoding": {
  "x": {"field": "x", "type": "quantitative", "title": null, "scale": {"domain": [0, 4000], "nice": false}, "axis": {"orient": "bottom", "values": [0, 1000, 2000, 3000, 4000], "labelPadding": 16, "labelExpr": "'' + datum.value"}},
  "y": {"field": "v", "type": "quantitative", "title": null, "scale": {"domain": [148, 158], "nice": false, "zero": false}, "axis": {"orient": "left", "values": [148, 150, 152, 154, 156, 158], "labelPadding": 13, "labelExpr": "'' + datum.value"}},
  "color": {"field": "t", "type": "nominal", "scale": {"domain": ["r", "f", "c"], "range": ["#ff0000", "#00ff00", "#0000ff"]}, "legend": null},
  "detail": {"field": "g", "type": "nominal"}
 }},
{"data": {"name": "max"}, "mark": {"type": "point", "filled": false, "size": 64, "strokeWidth": 1, "opacity": 1},
 "encoding": {
  "x": {"field": "x", "type": "quantitative", "title": null, "scale": {"domain": [0, 4000], "nice": false}, "axis": {"orient": "top", "values": [0, 1000, 2000, 3000, 4000], "labels": false}},
  "y": {"field": "v", "type": "quantitative", "title": null, "scale": {"domain": [148, 158], "nice": false, "zero": false}, "axis": {"orient": "right", "values": [148, 150, 152, 154, 156, 158], "labels": false}},
  "color": {"field": "t", "type": "nominal", "scale": {"domain": ["r", "f", "c"], "range": ["#ff0000", "#00ff00", "#0000ff"]}, "legend": null},
  "shape": {"field": "t", "type": "nominal", "scale": {"domain": ["r", "f", "c"], "range": ["M0.875,0A0.875,0.875 0 1,1 -0.875,0A0.875,0.875 0 1,1 0.875,0Z", "M-0.6,-0.6L0.6,0.6M-0.6,0.6L0.6,-0.6", "M-0.85,0L0.85,0M0,-0.85L0,0.85"]}, "legend": null}
 }},
{"data": {"name": "ann"}, "mark": {"type": "text", "align": "left", "baseline": "middle", "dx": -2, "fontSize": 13, "font": "Liberation Sans", "color": "#000000"},
 "encoding": {
  "x": {"field": "x", "type": "quantitative", "title": null, "axis": null},
  "y": {"field": "v", "type": "quantitative", "title": null, "axis": null},
  "text": {"field": "label", "type": "nominal"}
 }}
],
"resolve": {"axis": {"x": "independent", "y": "independent"}}
},
{
"width": 503, "height": 266,
"view": {"fill": "#ffffff", "stroke": "#000000", "strokeWidth": 1},
"title": "path traffic volume",
"data": {"name": "vol"},
"layer": [
{"mark": {"type": "line", "strokeWidth": 1},
 "encoding": {
  "x": {"field": "x", "type": "quantitative", "title": null, "scale": {"domain": [0, 4000], "nice": false}, "axis": {"orient": "bottom", "values": [0, 1000, 2000, 3000, 4000], "labelPadding": 16, "labelExpr": "'' + datum.value"}},
  "y": {"field": "v", "type": "quantitative", "title": null, "scale": {"domain": [-1000, 3000], "nice": false, "zero": false}, "axis": {"orient": "left", "values": [-1000, 0, 1000, 2000, 3000], "labelPadding": 13, "labelExpr": "'' + datum.value"}},
  "color": {"field": "s", "type": "nominal", "scale": {"domain": [1, 2, 3, 4], "range": ["#ff0000", "#00ff00", "#0000ff", "#ffff00"]}, "legend": null}
 }},
{"mark": {"type": "point", "filled": false, "size": 64, "strokeWidth": 1, "opacity": 1},
 "encoding": {
  "x": {"field": "x", "type": "quantitative", "title": null, "scale": {"domain": [0, 4000], "nice": false}, "axis": {"orient": "top", "values": [0, 1000, 2000, 3000, 4000], "labels": false}},
  "y": {"field": "v", "type": "quantitative", "title": null, "scale": {"domain": [-1000, 3000], "nice": false, "zero": false}, "axis": {"orient": "right", "values": [-1000, 0, 1000, 2000, 3000], "labels": false}},
  "color": {"field": "s", "type": "nominal", "scale": {"domain": [1, 2, 3, 4], "range": ["#ff0000", "#00ff00", "#0000ff", "#ffff00"]}, "legend": null},
  "shape": {"field": "t", "type": "nominal", "scale": {"domain": ["r", "f", "c"], "range": ["M0.875,0A0.875,0.875 0 1,1 -0.875,0A0.875,0.875 0 1,1 0.875,0Z", "M-0.6,-0.6L0.6,0.6M-0.6,0.6L0.6,-0.6", "M-0.85,0L0.85,0M0,-0.85L0,0.85"]}, "legend": null}
 }},
{"transform": [{"filter": "datum.x < 0"}],
 "mark": {"type": "point", "filled": false, "size": 100, "strokeWidth": 1},
 "encoding": {
  "color": {"field": "s", "type": "nominal", "scale": {"domain": [1, 2, 3, 4], "range": ["#ff0000", "#00ff00", "#0000ff", "#ffff00"]}, "legend": {"orient": "top-right", "offset": 22, "title": null, "padding": 0, "labelExpr": "'traffic volume for path ' + datum.label", "labelFont": "Liberation Sans", "labelFontSize": 13, "labelColor": "#000000", "labelOffset": 72, "rowPadding": 8, "symbolSize": 100, "symbolStrokeWidth": 1}},
  "shape": {"field": "s", "type": "nominal", "scale": {"domain": [1, 2, 3, 4], "range": ["M0,0L3,0M5,0L6.2,0M7.8,0L11.4,0M13.8,0L14,0M6.5,-0.5L7.5,0.5M6.5,0.5L7.5,-0.5", "M0,0L3,0M5,0L6.2,0M7.8,0L11.4,0M13.8,0L14,0M6.5,-0.5L7.5,0.5M6.5,0.5L7.5,-0.5", "M0,0L3,0M5,0L6.2,0M7.8,0L11.4,0M13.8,0L14,0M6.3,0L7.7,0M7,-0.7L7,0.7", "M0,0L3,0M5,0L6.2,0M7.8,0L11.4,0M13.8,0L14,0M7.6,0A0.6,0.6 0 1,1 6.4,0A0.6,0.6 0 1,1 7.6,0"]}, "legend": {"orient": "top-right", "offset": 22, "title": null, "padding": 0, "labelExpr": "'traffic volume for path ' + datum.label", "labelFont": "Liberation Sans", "labelFontSize": 13, "labelColor": "#000000", "labelOffset": 72, "rowPadding": 8, "symbolSize": 100, "symbolStrokeWidth": 1}}
 }}
],
"resolve": {"axis": {"x": "independent", "y": "independent"}, "scale": {"color": "independent", "shape": "independent"}}
},
{
"width": 503, "height": 266,
"view": {"fill": "#ffffff", "stroke": "#000000", "strokeWidth": 1},
"title": "path travel time",
"data": {"name": "tt"},
"layer": [
{"mark": {"type": "line", "strokeWidth": 1},
 "encoding": {
  "x": {"field": "x", "type": "quantitative", "title": null, "scale": {"domain": [0, 4000], "nice": false}, "axis": {"orient": "bottom", "values": [0, 1000, 2000, 3000, 4000], "labelPadding": 16, "labelExpr": "'' + datum.value"}},
  "y": {"field": "v", "type": "quantitative", "title": null, "scale": {"domain": [120, 160], "nice": false, "zero": false}, "axis": {"orient": "left", "values": [120, 130, 140, 150, 160], "labelPadding": 13, "labelExpr": "'' + datum.value"}},
  "color": {"field": "s", "type": "nominal", "scale": {"domain": [1, 2, 3, 4], "range": ["#ff0000", "#00ff00", "#0000ff", "#ffff00"]}, "legend": null}
 }},
{"mark": {"type": "point", "filled": false, "size": 64, "strokeWidth": 1, "opacity": 1},
 "encoding": {
  "x": {"field": "x", "type": "quantitative", "title": null, "scale": {"domain": [0, 4000], "nice": false}, "axis": {"orient": "top", "values": [0, 1000, 2000, 3000, 4000], "labels": false}},
  "y": {"field": "v", "type": "quantitative", "title": null, "scale": {"domain": [120, 160], "nice": false, "zero": false}, "axis": {"orient": "right", "values": [120, 130, 140, 150, 160], "labels": false}},
  "color": {"field": "s", "type": "nominal", "scale": {"domain": [1, 2, 3, 4], "range": ["#ff0000", "#00ff00", "#0000ff", "#ffff00"]}, "legend": null},
  "shape": {"field": "t", "type": "nominal", "scale": {"domain": ["r", "f", "c"], "range": ["M0.875,0A0.875,0.875 0 1,1 -0.875,0A0.875,0.875 0 1,1 0.875,0Z", "M-0.6,-0.6L0.6,0.6M-0.6,0.6L0.6,-0.6", "M-0.85,0L0.85,0M0,-0.85L0,0.85"]}, "legend": null}
 }},
{"transform": [{"filter": "datum.x < 0"}],
 "mark": {"type": "point", "filled": false, "size": 100, "strokeWidth": 1},
 "encoding": {
  "color": {"field": "s", "type": "nominal", "scale": {"domain": [1, 2, 3, 4], "range": ["#ff0000", "#00ff00", "#0000ff", "#ffff00"]}, "legend": {"orient": "top-right", "offset": 22, "title": null, "padding": 0, "labelExpr": "'travel time for path ' + datum.label", "labelFont": "Liberation Sans", "labelFontSize": 13, "labelColor": "#000000", "labelOffset": 72, "rowPadding": 8, "symbolSize": 100, "symbolStrokeWidth": 1}},
  "shape": {"field": "s", "type": "nominal", "scale": {"domain": [1, 2, 3, 4], "range": ["M0,0L3,0M5,0L6.2,0M7.8,0L11.4,0M13.8,0L14,0M7.6,0A0.6,0.6 0 1,1 6.4,0A0.6,0.6 0 1,1 7.6,0", "M0,0L3,0M5,0L6.2,0M7.8,0L11.4,0M13.8,0L14,0M7.6,0A0.6,0.6 0 1,1 6.4,0A0.6,0.6 0 1,1 7.6,0", "M0,0L3,0M5,0L6.2,0M7.8,0L11.4,0M13.8,0L14,0M6.5,-0.5L7.5,0.5M6.5,0.5L7.5,-0.5", "M0,0L3,0M5,0L6.2,0M7.8,0L11.4,0M13.8,0L14,0M6.5,-0.5L7.5,0.5M6.5,0.5L7.5,-0.5"]}, "legend": {"orient": "top-right", "offset": 22, "title": null, "padding": 0, "labelExpr": "'travel time for path ' + datum.label", "labelFont": "Liberation Sans", "labelFontSize": 13, "labelColor": "#000000", "labelOffset": 72, "rowPadding": 8, "symbolSize": 100, "symbolStrokeWidth": 1}}
 }}
],
"resolve": {"axis": {"x": "independent", "y": "independent"}, "scale": {"color": "independent", "shape": "independent"}}
}
],
"config": {
 "view": {"fill": "#ffffff", "stroke": "#000000", "strokeWidth": 1},
 "style": {"cell": {"fill": "#ffffff", "stroke": "#000000", "strokeWidth": 1}},
 "axis": {"labelFont": "Liberation Sans", "labelFontSize": 22, "labelColor": "#000000", "tickColor": "#000000", "tickSize": -5, "tickWidth": 1, "domain": false, "grid": false, "labelFlush": false, "labelOverlap": false},
 "title": {"font": "Liberation Sans", "fontSize": 22, "fontWeight": "normal", "color": "#000000", "offset": 5, "anchor": "middle", "frame": "group"}
}
}
